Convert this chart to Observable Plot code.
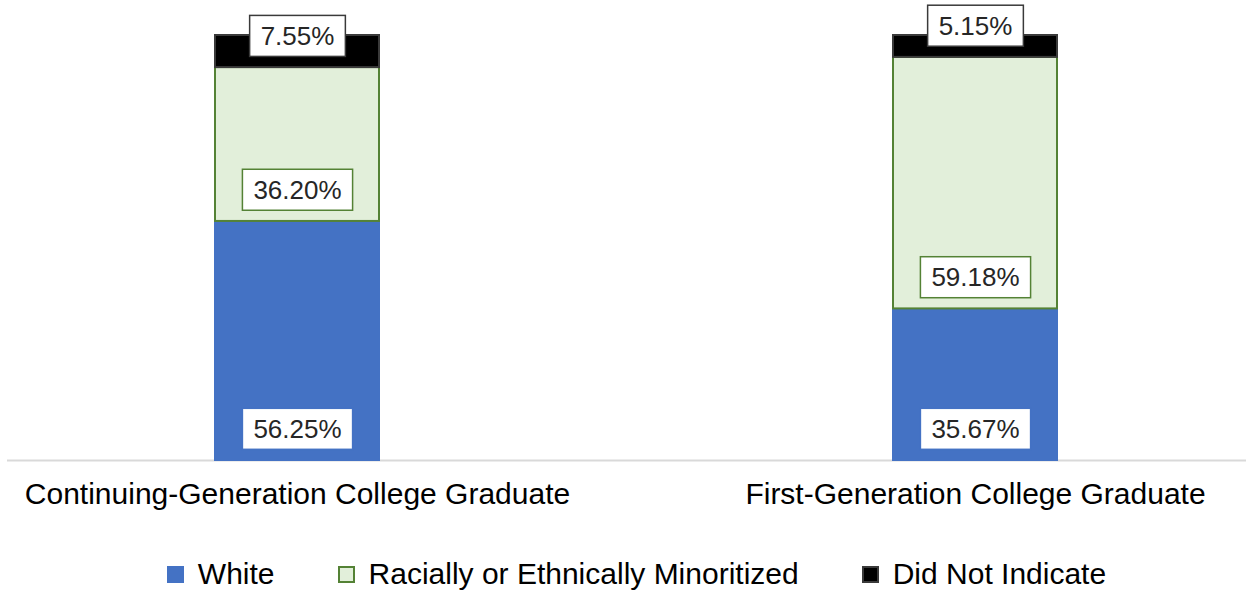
<!DOCTYPE html>
<html>
<head>
<meta charset="utf-8">
<script src="https://cdn.jsdelivr.net/npm/d3@7"></script>
<script src="https://cdn.jsdelivr.net/npm/@observablehq/plot@0.6"></script>
<style>
  html, body { margin: 0; padding: 0; background: #fff; }
  body { width: 1246px; height: 590px; overflow: hidden; font-family: "Liberation Sans", Arial, sans-serif; }
  #chart svg { display: block; }
  .legend { height: 88px; display: flex; align-items: center; justify-content: center; gap: 63px; padding-left: 27px; font-size: 30px; color: #000; }
  .legend .item { display: flex; align-items: center; gap: 14px; }
  .legend .sw { width: 13px; height: 13px; border: 2px solid; }
</style>
</head>
<body>
<div id="chart"></div>
<div class="legend" id="legend"></div>
<script>
// Share of graduates by race/ethnicity, per generation status (percent)
const groups = ["Continuing-Generation College Graduate", "First-Generation College Graduate"];
const races = ["White", "Racially or Ethnically Minoritized", "Did Not Indicate"];
const continuingGen = [56.25, 36.20, 7.55];
const firstGen = [35.67, 59.18, 5.15];

const fills = ["#4472C4", "#E2EFDA", "#000000"];
const strokes = ["#4472C4", "#548235", "#3a3a3a"];

const seriesByGroup = [continuingGen, firstGen];
const rows = groups.flatMap((g, gi) =>
  races.map((r, ri) => ({group: g, race: r, ri, value: seriesByGroup[gi][ri]}))
);

const chart = Plot.plot({
  width: 1246,
  height: 530,
  marginTop: 35,
  marginBottom: 70,
  marginLeft: 7,
  marginRight: 0,
  style: {fontFamily: "'Liberation Sans', Arial, sans-serif", background: "#fff"},
  x: {domain: groups, range: [25, 1246], paddingInner: 0.7585, paddingOuter: 0.2786, label: null},
  y: {domain: [0, 100], axis: null},
  color: {type: "identity"},
  marks: [
    Plot.ruleY([0], {stroke: "#d9d9d9", strokeWidth: 2}),
    Plot.barY(rows, {
      x: "group", y: "value",
      fill: d => fills[d.ri], stroke: d => strokes[d.ri], strokeWidth: 2
    }),
    Plot.text(rows, Plot.stackY1({
      x: "group", y: "value",
      text: d => d.value.toFixed(2) + "%",
      dy: -31, fontSize: 26, fill: "#262626",
      className: "seg-label"
    })),
    Plot.axisX({tickSize: 0, tickPadding: 22, fontSize: 30, fill: "#000", label: null})
  ]
});
document.getElementById("chart").append(chart);

// White boxes behind the value labels, outlined in each segment's stroke colour
const labelTexts = chart.querySelectorAll("g.seg-label text");
labelTexts.forEach((t, i) => {
  const bb = t.getBBox();
  const r = document.createElementNS("http://www.w3.org/2000/svg", "rect");
  const h = 41;
  r.setAttribute("x", bb.x - 11);
  r.setAttribute("y", bb.y + bb.height / 2 - h / 2);
  r.setAttribute("width", bb.width + 22);
  r.setAttribute("height", h);
  r.setAttribute("fill", "#fff");
  r.setAttribute("stroke", strokes[rows[i].ri]);
  r.setAttribute("stroke-width", 1.5);
  if (t.getAttribute("transform")) r.setAttribute("transform", t.getAttribute("transform"));
  t.parentNode.insertBefore(r, t);
});

// Legend
const legend = document.getElementById("legend");
races.forEach((r, i) => {
  const item = document.createElement("div");
  item.className = "item";
  const sw = document.createElement("span");
  sw.className = "sw";
  sw.style.background = fills[i];
  sw.style.borderColor = strokes[i];
  const lab = document.createElement("span");
  lab.textContent = r;
  item.append(sw, lab);
  legend.append(item);
});
</script>
</body>
</html>
